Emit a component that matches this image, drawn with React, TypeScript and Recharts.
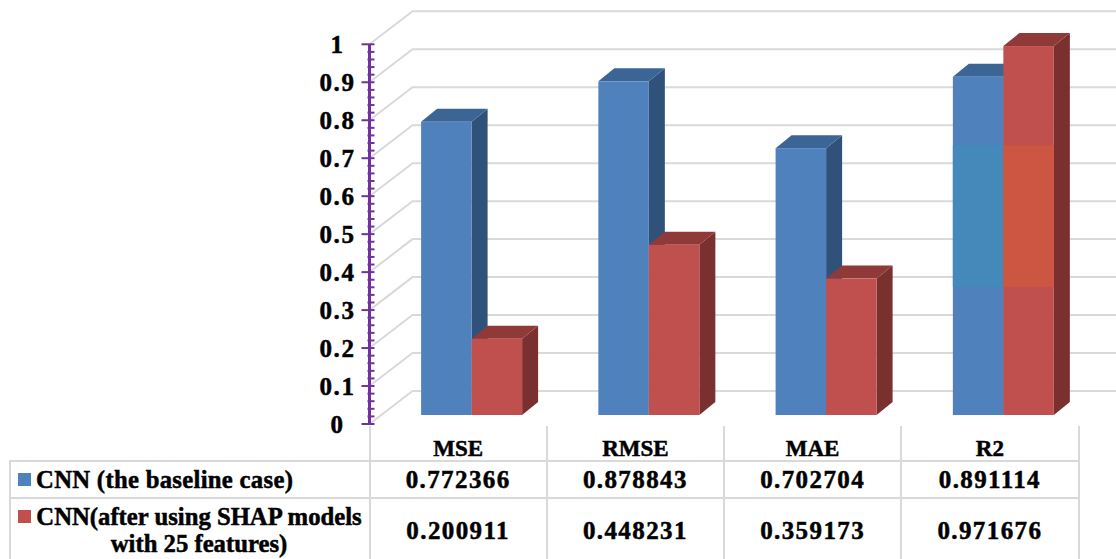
import { Bar, BarChart, CartesianGrid, XAxis, YAxis } from "recharts";

const categories = ["MSE", "RMSE", "MAE", "R2"];
const baseline = [0.772366, 0.878843, 0.702704, 0.891114];
const withShap = [0.200911, 0.448231, 0.359173, 0.971676];
const majorTicks = [0, 0.1, 0.2, 0.3, 0.4, 0.5, 0.6, 0.7, 0.8, 0.9, 1];
const minorTicks = [
  0.02, 0.04, 0.06, 0.08, 0.12, 0.14, 0.16, 0.18, 0.22, 0.24, 0.26, 0.28, 0.32,
  0.34, 0.36, 0.38, 0.42, 0.44, 0.46, 0.48, 0.52, 0.54, 0.56, 0.58, 0.62, 0.64,
  0.66, 0.68, 0.72, 0.74, 0.76, 0.78, 0.82, 0.84, 0.86, 0.88, 0.92, 0.94, 0.96,
  0.98,
];
const baselineLabel = "CNN (the baseline case)";
const shapLabel = ["CNN(after using SHAP models", "with 25 features)"];
// lighter stretch of the R2 columns
const glareCategory = "R2";
const glareRange = [0.337, 0.71];

const chartData = categories.map((name, i) => ({
  name,
  baseline: baseline[i],
  withShap: withShap[i],
}));

const FONT = '"Liberation Serif", serif';
const AXIS_W = 60;
const PLOT_LEFT = 369.5;
const COL_W = 177.25;
const PLOT_TOP = 44.3;
const PLOT_BOTTOM = 425;
const BAR_W = 50.5;

const BLUE = { front: "#4f81bd", top: "#3b6595", side: "#30527a", glare: "#4588ba" };
const RED = { front: "#c0504d", top: "#8f3a38", side: "#7a302e", glare: "#cd5643" };

// Box with the front face pushed into the plot floor, depth drawn up and right
function Box3D(props: any) {
  const { x, y, width, height, value, payload, palette } = props;
  const shiftX = 13.6;
  const shiftY = -9;
  const depthX = 16;
  const depthY = -13;
  const left = x + shiftX;
  const right = left + width;
  const top = y + shiftY;
  const bottom = top + height;
  const perUnit = height / value;
  return (
    <g>
      <polygon
        points={`${right},${top} ${right + depthX},${top + depthY} ${right + depthX},${bottom + depthY} ${right},${bottom}`}
        fill={palette.side}
      />
      <polygon
        points={`${left},${top} ${left + depthX},${top + depthY} ${right + depthX},${top + depthY} ${right},${top}`}
        fill={palette.top}
      />
      <rect x={left} y={top} width={width} height={height} fill={palette.front} />
      {payload.name === glareCategory && (
        <rect
          x={left}
          y={bottom - glareRange[1] * perUnit}
          width={width}
          height={(glareRange[1] - glareRange[0]) * perUnit}
          fill={palette.glare}
        />
      )}
    </g>
  );
}

// Floor-to-back-wall gridline
function WallLine({ x1, y1, x2 }: any) {
  return (
    <polyline
      points={`${x1},${y1} ${x1 + 43},${y1 - 33} ${x2},${y1 - 33}`}
      fill="none"
      stroke="#d9d9d9"
      strokeWidth={2}
    />
  );
}

function AxisTick({ x, y, payload }: any) {
  const major = majorTicks.includes(payload.value);
  const axisX = x + 8;
  return (
    <g>
      <line
        x1={major ? axisX - 8 : axisX - 2}
        x2={axisX + 5}
        y1={y}
        y2={y}
        stroke="#7030a0"
        strokeWidth={2}
      />
      {major && (
        <text
          x={axisX - 32}
          y={y + 8.5}
          textAnchor="middle"
          fontFamily={FONT}
          fontWeight={700}
          fontSize={25}
          letterSpacing={1.6}
          stroke="#000"
          strokeWidth={0.5}
          fill="#000"
        >
          {payload.value}
        </text>
      )}
    </g>
  );
}

const rowLine: React.CSSProperties = {
  position: "absolute",
  background: "#d9d9d9",
};

const heavyText = {
  fontFamily: FONT,
  fontWeight: 700,
  color: "#000",
  WebkitTextStroke: "0.5px #000",
} as React.CSSProperties;

const cellText: React.CSSProperties = {
  ...heavyText,
  position: "absolute",
  width: COL_W,
  textAlign: "center",
  fontSize: 25,
  letterSpacing: 1.4,
  lineHeight: "30px",
};

const legendText: React.CSSProperties = {
  ...heavyText,
  position: "absolute",
  fontSize: 24.7,
  whiteSpace: "nowrap",
};

function DataTable() {
  const columnEdges = [0, 1, 2, 3, 4];
  return (
    <>
      <div style={{ ...rowLine, left: 9, top: 460, width: 1070, height: 2 }} />
      <div style={{ ...rowLine, left: 9, top: 497, width: 1070, height: 2 }} />
      <div style={{ ...rowLine, left: 9, top: 460, width: 2, height: 99 }} />
      {columnEdges.map((c) => (
        <div
          key={c}
          style={{
            ...rowLine,
            left: PLOT_LEFT - 1 + c * COL_W,
            top: 426,
            width: 2,
            height: 133,
          }}
        />
      ))}
      <div style={{ position: "absolute", left: 18, top: 473, width: 13, height: 13, background: BLUE.front }} />
      <div style={{ position: "absolute", left: 18, top: 510, width: 13, height: 13, background: RED.front }} />
      <div style={{ ...legendText, left: 36, top: 461, lineHeight: "37px", letterSpacing: 0.3 }}>{baselineLabel}</div>
      <div style={{ ...legendText, left: 36, top: 503, lineHeight: "27px", width: 326, textAlign: "center" }}>
        {shapLabel[0]}
        <br />
        {shapLabel[1]}
      </div>
      {categories.map((name, i) => (
        <div key={name}>
          <div style={{ ...cellText, left: PLOT_LEFT + i * COL_W, top: 465 }}>{baseline[i]}</div>
          <div style={{ ...cellText, left: PLOT_LEFT + i * COL_W, top: 516 }}>{withShap[i]}</div>
        </div>
      ))}
    </>
  );
}

export default function App() {
  return (
    <div style={{ position: "absolute", left: 0, top: 0, width: 1116, height: 559, overflow: "hidden", background: "#fff" }}>
      <BarChart
        width={1116}
        height={559}
        data={chartData}
        barCategoryGap={0}
        barGap={0}
        barSize={BAR_W}
        margin={{
          top: PLOT_TOP,
          bottom: 559 - PLOT_BOTTOM,
          left: PLOT_LEFT - AXIS_W,
          right: 1116 - PLOT_LEFT - 4 * COL_W,
        }}
      >
        <CartesianGrid
          vertical={false}
          horizontal={(p: any) => <WallLine key={p.key} x1={p.x1} y1={p.y1} x2={1116} />}
          horizontalValues={majorTicks}
        />
        <XAxis
          dataKey="name"
          axisLine={false}
          tickLine={false}
          interval={0}
          height={1}
          tick={{ fontFamily: FONT, fontWeight: 700, fontSize: 23, fill: "#000", stroke: "#000", strokeWidth: 0.5, dy: 8 }}
        />
        <YAxis
          width={AXIS_W}
          orientation="left"
          domain={[0, 1]}
          ticks={[...majorTicks, ...minorTicks].sort((a, b) => a - b)}
          interval={0}
          axisLine={{ stroke: "#7030a0", strokeWidth: 3 }}
          tickLine={false}
          tickSize={8}
          tickMargin={0}
          tick={AxisTick as any}
        />
        <Bar
          dataKey="baseline"
          isAnimationActive={false}
          shape={(p: any) => <Box3D {...p} palette={BLUE} />}
        />
        <Bar
          dataKey="withShap"
          isAnimationActive={false}
          shape={(p: any) => <Box3D {...p} palette={RED} />}
        />
      </BarChart>
      <DataTable />
    </div>
  );
}
